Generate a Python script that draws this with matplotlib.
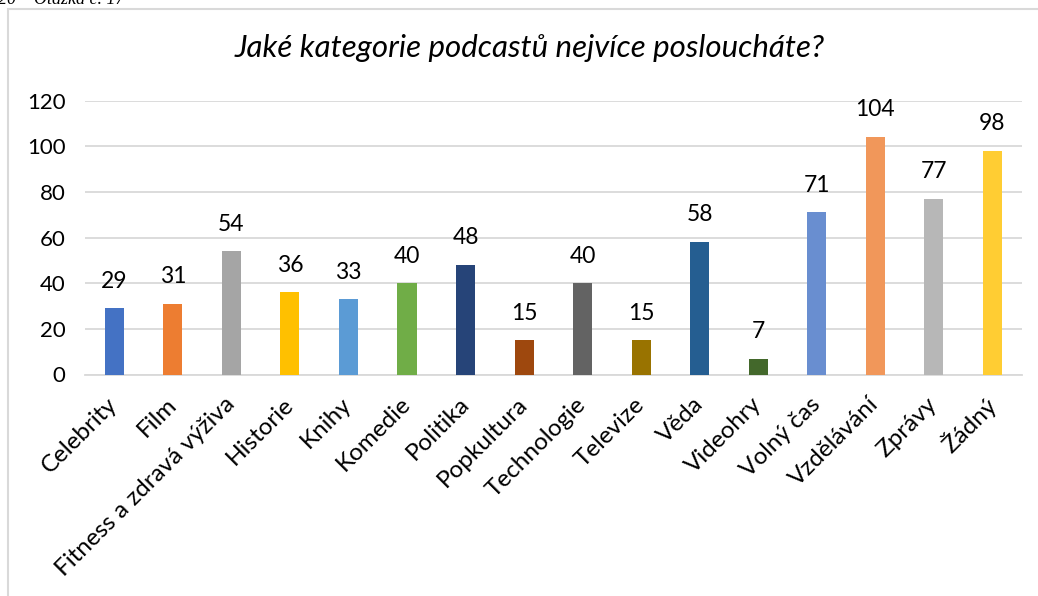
import matplotlib
matplotlib.use('Agg')
import matplotlib.pyplot as plt
from matplotlib.patches import Rectangle

plt.rcParams['font.family'] = ['Lato', 'DejaVu Sans']

categories = ['Celebrity', 'Film', 'Fitness a zdravá výživa', 'Historie', 'Knihy',
              'Komedie', 'Politika', 'Popkultura', 'Technologie', 'Televize',
              'Věda', 'Videohry', 'Volný čas', 'Vzdělávání', 'Zprávy', 'Žádný']
counts = [29, 31, 54, 36, 33, 40, 48, 15, 40, 15, 58, 7, 71, 104, 77, 98]
colors = ['#4472C4', '#ED7D31', '#A5A5A5', '#FFC000', '#5B9BD5', '#70AD47',
          '#264478', '#9E480E', '#636363', '#997300', '#255E91', '#43682B',
          '#698ED0', '#F1975A', '#B7B7B7', '#FFCD33']
yticks = [0, 20, 40, 60, 80, 100, 120]
title = 'Jaké kategorie podcastů nejvíce posloucháte?'
caption = '20 – Otázka č. 17'

W, H = 1038, 596
fig = plt.figure(figsize=(W / 100, H / 100), dpi=100)

# chart frame (runs off the right and bottom of the crop)
fig.patches.append(Rectangle((8 / W, -0.1), 1.2, 1.1 - 9.5 / H, transform=fig.transFigure,
                             fill=False, edgecolor='#D9D9D9', linewidth=1.5))
fig.text(-2 / W, 1 - 4 / H, caption, family='Liberation Serif', style='italic',
         fontsize=13, va='baseline', ha='left')

ax = fig.add_axes([85 / W, 1 - 374.5 / H, 936.7 / W, (374.5 - 100.6) / H])
x = range(len(categories))
bars = ax.bar(x, counts, width=0.325, color=colors, zorder=3)
for xi, v in zip(x, counts):
    ax.annotate(str(v), (xi, v), xytext=(0, 12), textcoords='offset points',
                ha='center', va='bottom', fontsize=16.5, color='#000000')

ax.set_xlim(-0.5, len(categories) - 0.5)
ax.set_ylim(0, 120)
ax.set_yticks(yticks)
ax.grid(axis='y', color='#D9D9D9', linewidth=1.3, zorder=0)
ax.set_axisbelow(True)
for s in ['top', 'right', 'left']:
    ax.spines[s].set_visible(False)
ax.spines['bottom'].set_color('#D9D9D9')
ax.spines['bottom'].set_linewidth(1.3)
ax.tick_params(axis='both', length=0, labelsize=16, colors='#000000')
ax.tick_params(axis='y', pad=14)
ax.set_xticks(list(x))
ax.set_xticklabels(categories, rotation=45, ha='right', va='center',
                   rotation_mode='anchor', fontsize=17.5)
ax.tick_params(axis='x', pad=19)

fig.text(529.5 / W, 1 - 48 / H, title, fontsize=22.5, style='italic',
         ha='center', va='center')

fig.savefig('out.png', dpi=100)
